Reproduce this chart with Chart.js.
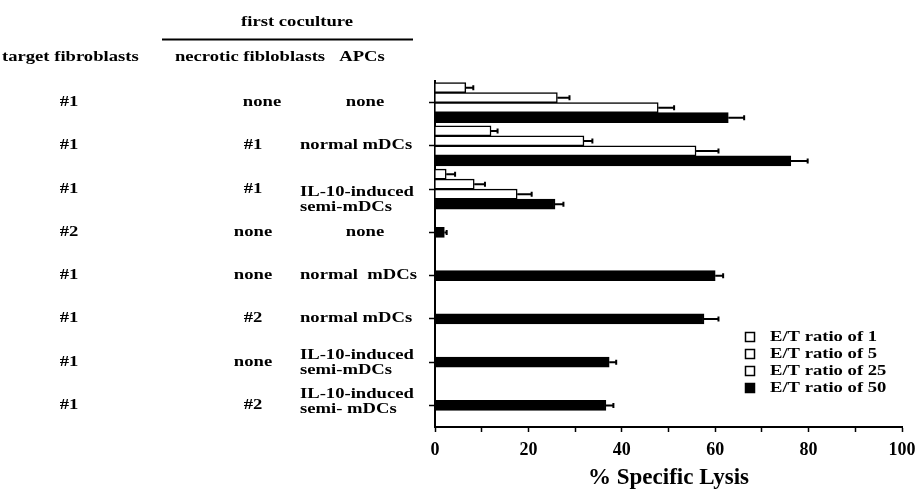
<!DOCTYPE html>
<html>
<head>
<meta charset="utf-8">
<script src="https://cdn.jsdelivr.net/npm/chart.js@4"></script>
<style>
  html, body { margin: 0; padding: 0; background: #fff; }
  #c { display: block; }
</style>
</head>
<body>
<canvas id="c" width="916" height="497"></canvas>
<script>
// ---- data ----
const categories = ['row1', 'row2', 'row3', 'row4', 'row5', 'row6', 'row7', 'row8'];
const targetFibroblasts = ['#1', '#1', '#1', '#2', '#1', '#1', '#1', '#1'];
const necroticFibroblasts = ['none', '#1', '#1', 'none', 'none', '#2', 'none', '#2'];
const apcs = [
  ['none'], ['normal mDCs'], ['IL-10-induced', 'semi-mDCs'], ['none'],
  ['normal  mDCs'], ['normal mDCs'], ['IL-10-induced', 'semi-mDCs'], ['IL-10-induced', 'semi- mDCs']
];
const seriesLabels = ['E/T ratio of 1', 'E/T ratio of 5', 'E/T ratio of 25', 'E/T ratio of 50'];
const ratio1  = [6.6, 12.0, 2.4, null, null, null, null, null];
const ratio5  = [26.2, 31.9, 8.4, null, null, null, null, null];
const ratio25 = [47.8, 55.9, 17.6, null, null, null, null, null];
const ratio50 = [62.8, 76.2, 25.7, 2.0, 60.0, 57.6, 37.3, 36.6];
const err1  = [1.6, 1.4, 1.9, null, null, null, null, null];
const err5  = [2.6, 1.8, 2.3, null, null, null, null, null];
const err25 = [3.4, 4.8, 3.1, null, null, null, null, null];
const err50 = [3.4, 3.6, 1.8, 0.5, 1.7, 3.1, 1.5, 1.6];
const xTicks = [0, 20, 40, 60, 80, 100];

// ---- layout / style (not data) ----
const FONT = '"Liberation Serif", "Times New Roman", serif';
const SX = 1.33; // horizontal stretch of the scanned lettering
const twoLineShift = { 2: 3, 6: -7, 7: -11 }; // vertical nudge of two-line APC labels

function sText(ctx, t, x, y, align) {
  const w = ctx.measureText(t).width * SX;
  const left = align === 'center' ? x - w / 2 : (align === 'right' ? x - w : x);
  ctx.save();
  ctx.translate(left, y);
  ctx.scale(SX, 1);
  ctx.textAlign = 'left';
  ctx.fillText(t, 0, 0);
  ctx.restore();
}

const errorBars = {
  id: 'errorBars',
  afterDatasetsDraw(chart) {
    const ctx = chart.ctx, xs = chart.scales.x;
    chart.data.datasets.forEach((ds, i) => {
      const meta = chart.getDatasetMeta(i);
      meta.data.forEach((bar, j) => {
        const v = ds.data[j], e = ds.errors[j];
        if (v == null || e == null) return;
        const x1 = bar.x, x2 = xs.getPixelForValue(v + e);
        ctx.save();
        ctx.strokeStyle = '#000';
        ctx.lineWidth = 2;
        ctx.beginPath();
        ctx.moveTo(x1, bar.y); ctx.lineTo(x2, bar.y);
        ctx.moveTo(x2, bar.y - 2.5); ctx.lineTo(x2, bar.y + 2.5);
        ctx.stroke();
        ctx.restore();
      });
    });
  }
};

const tableText = {
  id: 'tableText',
  afterDraw(chart) {
    const ctx = chart.ctx, ys = chart.scales.y;
    ctx.save();
    ctx.fillStyle = '#000';
    ctx.textBaseline = 'middle';
    ctx.font = 'bold 14px ' + FONT;
    // header
    sText(ctx, 'first coculture', 297, 22, 'center');
    ctx.strokeStyle = '#000';
    ctx.lineWidth = 2;
    ctx.beginPath(); ctx.moveTo(162, 39.5); ctx.lineTo(413, 39.5); ctx.stroke();
    sText(ctx, 'target fibroblasts', 2, 57, 'left');
    sText(ctx, 'necrotic fibloblasts', 250, 57, 'center');
    sText(ctx, 'APCs', 362, 57, 'center');
    // rows
    categories.forEach((c, i) => {
      const y = ys.getPixelForValue(i);
      sText(ctx, targetFibroblasts[i], 69, y, 'center');
      sText(ctx, necroticFibroblasts[i], i === 0 ? 262 : 253, y, 'center');
      const lines = apcs[i];
      if (lines.length === 1 && lines[0] === 'none') {
        sText(ctx, lines[0], 365, y, 'center');
      } else {
        const y0 = y + (twoLineShift[i] || 0);
        lines.forEach((t, k) => sText(ctx, t, 300, y0 + k * 15, 'left'));
      }
    });
    // legend
    chart.data.datasets.forEach((ds, i) => {
      const y = 337 + i * 17;
      ctx.fillStyle = ds.backgroundColor;
      ctx.fillRect(745.5, y - 4.5, 9, 9);
      ctx.lineWidth = 1.5;
      ctx.strokeStyle = '#000';
      ctx.strokeRect(745.5, y - 4.5, 9, 9);
      ctx.fillStyle = '#000';
      sText(ctx, ds.label, 770, y, 'left');
    });
    ctx.restore();
  }
};

const mk = (label, data, errors, fill) => ({
  label, data, errors,
  backgroundColor: fill,
  borderColor: '#000',
  borderWidth: 1.5,
  barThickness: 10
});

new Chart(document.getElementById('c'), {
  type: 'bar',
  data: {
    labels: categories,
    datasets: [
      mk(seriesLabels[0], ratio1, err1, '#ffffff'),
      mk(seriesLabels[1], ratio5, err5, '#ffffff'),
      mk(seriesLabels[2], ratio25, err25, '#ffffff'),
      mk(seriesLabels[3], ratio50, err50, '#000000')
    ]
  },
  options: {
    indexAxis: 'y',
    responsive: false,
    animation: false,
    devicePixelRatio: 1,
    skipNull: true,
    layout: { padding: { top: 81, right: 14, bottom: 0, left: 0 } },
    plugins: { legend: { display: false }, tooltip: { enabled: false } },
    scales: {
      x: {
        type: 'linear', min: 0, max: 100,
        afterFit(s) { s.height = 70; s.paddingRight = 0; s.paddingLeft = 0; },
        ticks: {
          stepSize: 10, autoSkip: false, maxRotation: 0, padding: 8,
          color: '#000', font: { family: FONT, size: 18, weight: 'bold' },
          callback: v => xTicks.includes(v) ? String(v) : ''
        },
        grid: { drawOnChartArea: false, drawTicks: true, tickLength: 5, color: '#000', tickWidth: 1.5 },
        border: { display: true, color: '#000', width: 2 },
        title: {
          display: true, text: '% Specific Lysis', color: '#000',
          font: { family: FONT, size: 23, weight: 'bold' },
          padding: { top: 0, bottom: 5 }
        }
      },
      y: {
        type: 'category',
        afterFit(s) { s.width = 435; },
        ticks: { display: false },
        grid: { drawOnChartArea: false, offset: false, drawTicks: true, tickLength: 6, color: '#000', tickWidth: 1.5 },
        border: { display: true, color: '#000', width: 2 }
      }
    }
  },
  plugins: [errorBars, tableText]
});
</script>
</body>
</html>
